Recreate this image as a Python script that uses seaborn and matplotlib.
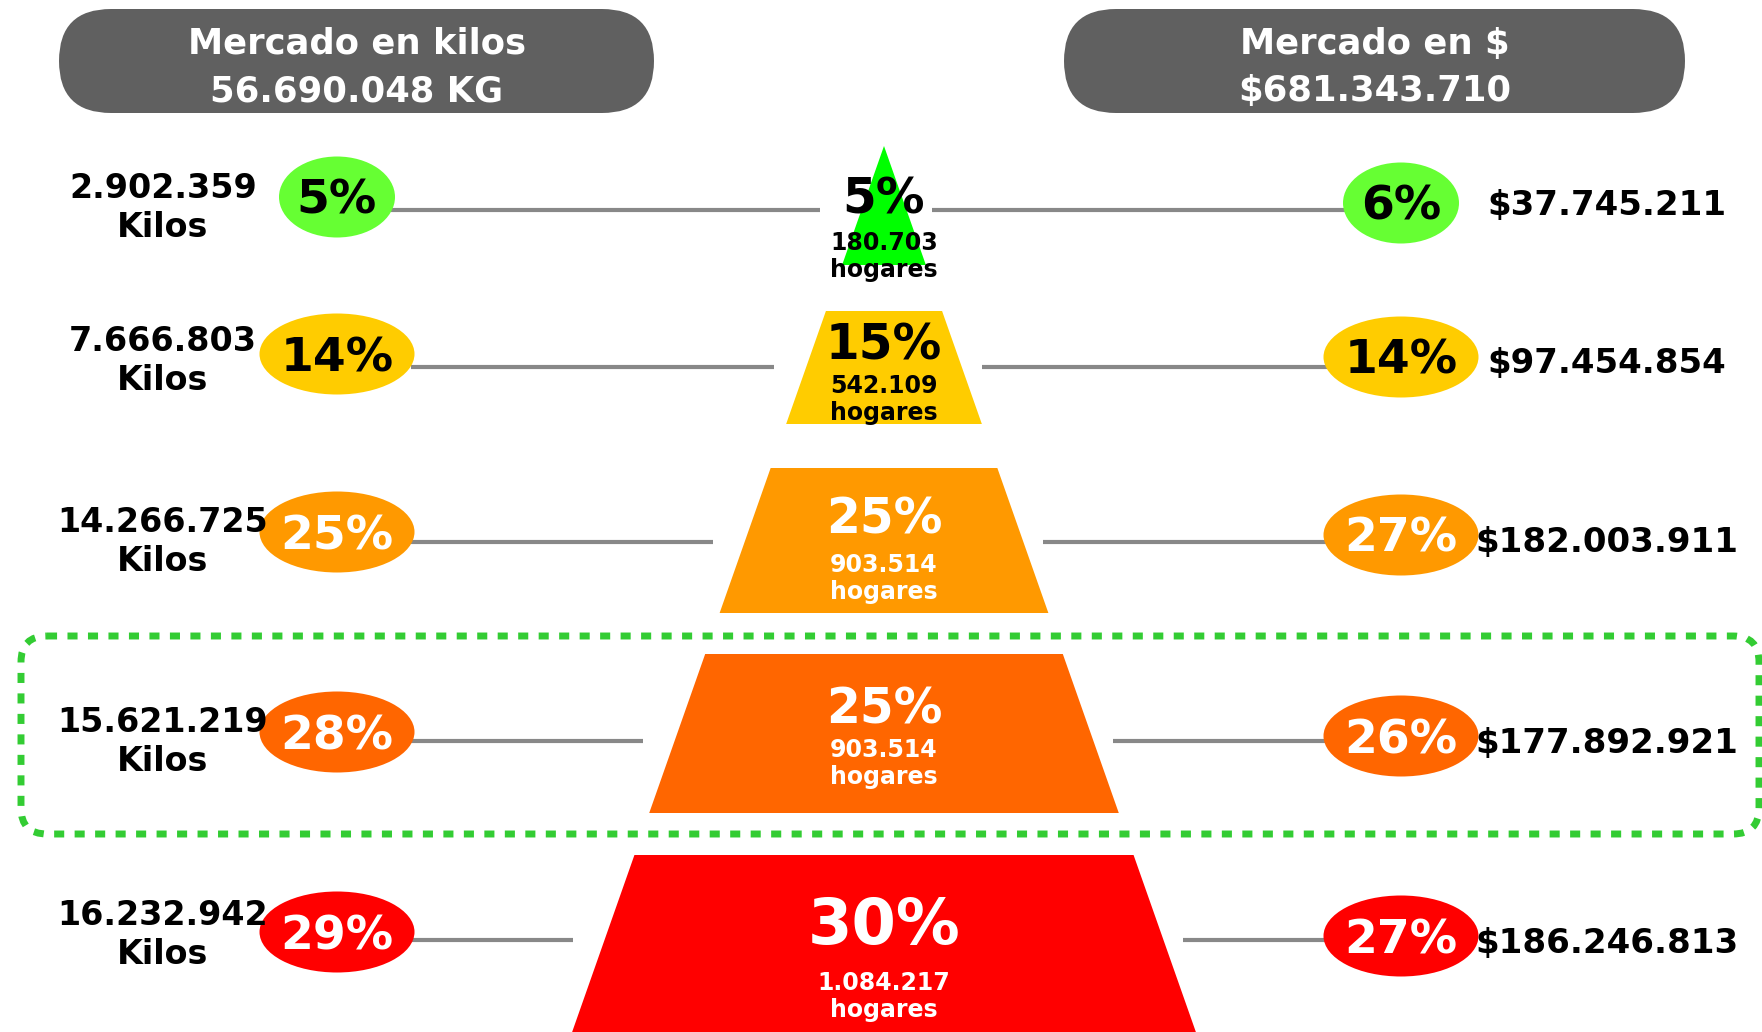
import matplotlib
matplotlib.use("Agg")
import matplotlib.pyplot as plt
from matplotlib.patches import Ellipse, FancyBboxPatch, Polygon
import seaborn as sns

sns.set_theme(style="white")
plt.rcParams['font.family'] = ['DejaVu Sans']

header_titles = ["Mercado en kilos", "Mercado en $"]
header_totals = ["56.690.048 KG", "$681.343.710"]
kilos = ["2.902.359", "7.666.803", "14.266.725", "15.621.219", "16.232.942"]
kilos_pct = [5, 14, 25, 28, 29]
pesos = ["$37.745.211", "$97.454.854", "$182.003.911", "$177.892.921",
         "$186.246.813"]
pesos_pct = [6, 14, 27, 26, 27]
hogares_pct = [5, 15, 25, 25, 30]
hogares = ["180.703", "542.109", "903.514", "903.514", "1.084.217"]

tier_colors = ["#00FF00", "#FFCC00", "#FF9900", "#FF6600", "#FF0000"]
bubble_colors = ["#66FF33", "#FFCC00", "#FF9900", "#FF6600", "#FF0000"]
text_colors = ["black", "black", "white", "white", "white"]

# ---- layout (pixels, y grows downwards) ----
W, H = 1762, 1032
apex_x, apex_y, slope = 884, 146, 0.352
bands = [(146, 265), (311, 424), (468, 613), (654, 813), (855, 1045)]
line_y = [210, 367, 542, 741, 940]
left_bubble_y = [197, 354, 532, 732, 932]
right_bubble_y = [203, 357, 535, 736, 936]
left_label_base = [198, 351, 532, 732, 925]
right_label_base = [215, 373, 552, 753, 953]
big_base = [214, 360, 534, 723, 944]
num_base = [250, 393, 572, 757, 990]
left_x, right_x = 337, 1401
gray = "#888888"


def half_width(y):
    return slope * (y - apex_y)


fig = plt.figure(figsize=(W / 100, H / 100), dpi=100)
ax = fig.add_axes([0, 0, 1, 1])
ax.set_xlim(0, W)
ax.set_ylim(H, 0)
ax.axis('off')

# header pills
for (x0, x1), title, total in zip([(59, 654), (1064, 1685)],
                                  header_titles, header_totals):
    ax.add_patch(FancyBboxPatch((x0, 9), x1 - x0, 104,
                                boxstyle="round,pad=0,rounding_size=52",
                                fc="#606060", ec="none"))
    cx = (x0 + x1) / 2
    ax.text(cx, 54, title, ha='center', va='baseline', color='white',
            fontsize=25.5, fontweight='bold')
    ax.text(cx, 101, total, ha='center', va='baseline', color='white',
            fontsize=25.5, fontweight='bold')

# dotted highlight around the 4th tier
ax.add_patch(FancyBboxPatch((21, 636), 1738, 198,
                            boxstyle="round,pad=0,rounding_size=26",
                            fc="none", ec="#33CC33", lw=5,
                            ls=(0, (1.45, 1.5)), capstyle='butt', zorder=1))

for i in range(5):
    top, bot = bands[i]
    color = tier_colors[i]
    tc = text_colors[i]

    # pyramid tier
    pts = [(apex_x - half_width(top), top), (apex_x + half_width(top), top),
           (apex_x + half_width(bot), bot), (apex_x - half_width(bot), bot)]
    ax.add_patch(Polygon(pts, closed=True, fc=color, ec='none', zorder=2))

    # bubbles
    bw = 116 if i == 0 else 155

    # connector lines
    hw = half_width(line_y[i])
    ax.plot([left_x + bw / 2 - 4, apex_x - max(hw + 32, 64)],
            [line_y[i]] * 2, color=gray, lw=3, solid_capstyle='butt',
            zorder=1)
    ax.plot([apex_x + max(hw + 20, 48), right_x - bw / 2 + 4],
            [line_y[i]] * 2, color=gray, lw=3, solid_capstyle='butt',
            zorder=1)

    ax.add_patch(Ellipse((left_x, left_bubble_y[i]), bw, 81,
                         fc=bubble_colors[i], ec='none', zorder=3))
    ax.add_patch(Ellipse((right_x, right_bubble_y[i]), bw, 81,
                         fc=bubble_colors[i], ec='none', zorder=3))
    ax.text(left_x, left_bubble_y[i] + 17, f"{kilos_pct[i]}%", ha='center',
            va='baseline', color=tc, fontsize=34, fontweight='bold', zorder=4)
    ax.text(right_x, right_bubble_y[i] + 17, f"{pesos_pct[i]}%", ha='center',
            va='baseline', color=tc, fontsize=34, fontweight='bold', zorder=4)

    # side labels
    ax.text(163, left_label_base[i], kilos[i], ha='center', va='baseline',
            color='black', fontsize=24, fontweight='bold', zorder=5)
    ax.text(163, left_label_base[i] + 39, "Kilos", ha='center',
            va='baseline', color='black', fontsize=24, fontweight='bold',
            zorder=5)
    ax.text(1607, right_label_base[i], pesos[i], ha='center', va='baseline',
            color='black', fontsize=24.5, fontweight='bold', zorder=5)

    # tier labels
    ax.text(apex_x, big_base[i], f"{hogares_pct[i]}%", ha='center',
            va='baseline', color=tc, fontsize=46 if i == 4 else 35,
            fontweight='bold', zorder=5)
    ax.text(apex_x, num_base[i], hogares[i], ha='center', va='baseline',
            color=tc, fontsize=17, fontweight='bold', zorder=5)
    ax.text(apex_x, num_base[i] + 27, "hogares", ha='center',
            va='baseline', color=tc, fontsize=17, fontweight='bold',
            zorder=5)

fig.savefig("out.png", dpi=100, facecolor='white')
